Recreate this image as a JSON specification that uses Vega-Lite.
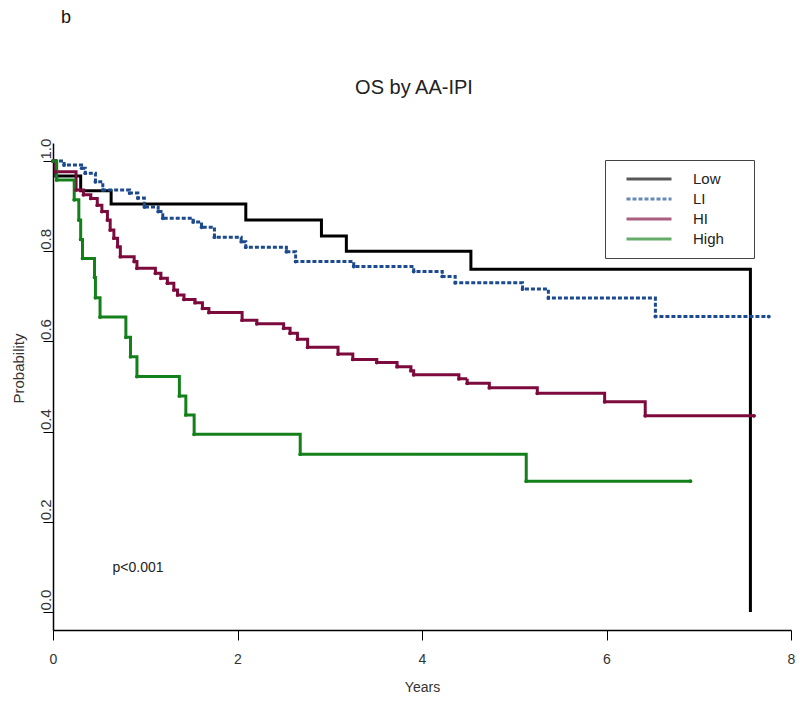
{
  "$schema": "https://vega.github.io/schema/vega-lite/v6.json",
  "width": 738,
  "height": 487,
  "autosize": {"type": "none"},
  "padding": {"left": 53, "top": 143, "right": 9, "bottom": 75},
  "background": "white",
  "title": {"text": "OS by AA-IPI", "fontSize": 20, "font": "Liberation Sans", "fontWeight": "normal", "color": "#222222", "anchor": "middle", "offset": 0, "baseline": "alphabetic", "dy": 105, "dx": -8},
  "config": {
    "view": {"stroke": null},
    "font": "Liberation Sans",
    "axis": {"grid": false, "domainColor": "#000000", "tickColor": "#000000", "labelColor": "#333333", "titleColor": "#333333", "labelFont": "Liberation Sans", "titleFont": "Liberation Sans", "labelFontSize": 14, "titleFontSize": 14, "titleFontWeight": "normal", "domainWidth": 1.5, "tickWidth": 1}
  },
  "datasets": {
    "km": [
      {"group": "Low", "t": 0, "s": 1.0},
      {"group": "Low", "t": 0.03, "s": 0.967},
      {"group": "Low", "t": 0.30, "s": 0.934},
      {"group": "Low", "t": 0.63, "s": 0.905},
      {"group": "Low", "t": 2.09, "s": 0.869},
      {"group": "Low", "t": 2.91, "s": 0.834},
      {"group": "Low", "t": 3.18, "s": 0.800},
      {"group": "Low", "t": 4.53, "s": 0.760},
      {"group": "Low", "t": 7.56, "s": 0.0},
      {"group": "LI", "t": 0, "s": 1.0},
      {"group": "LI", "t": 0.12, "s": 0.991},
      {"group": "LI", "t": 0.31, "s": 0.984},
      {"group": "LI", "t": 0.35, "s": 0.973},
      {"group": "LI", "t": 0.46, "s": 0.954},
      {"group": "LI", "t": 0.54, "s": 0.936},
      {"group": "LI", "t": 0.83, "s": 0.929},
      {"group": "LI", "t": 0.92, "s": 0.918},
      {"group": "LI", "t": 0.99, "s": 0.898},
      {"group": "LI", "t": 1.14, "s": 0.888},
      {"group": "LI", "t": 1.19, "s": 0.873},
      {"group": "LI", "t": 1.52, "s": 0.865},
      {"group": "LI", "t": 1.61, "s": 0.853},
      {"group": "LI", "t": 1.75, "s": 0.831},
      {"group": "LI", "t": 2.04, "s": 0.821},
      {"group": "LI", "t": 2.09, "s": 0.809},
      {"group": "LI", "t": 2.53, "s": 0.799},
      {"group": "LI", "t": 2.63, "s": 0.777},
      {"group": "LI", "t": 3.26, "s": 0.766},
      {"group": "LI", "t": 3.91, "s": 0.755},
      {"group": "LI", "t": 4.22, "s": 0.744},
      {"group": "LI", "t": 4.36, "s": 0.730},
      {"group": "LI", "t": 5.09, "s": 0.716},
      {"group": "LI", "t": 5.37, "s": 0.696},
      {"group": "LI", "t": 6.53, "s": 0.655},
      {"group": "LI", "t": 7.76, "s": 0.655},
      {"group": "HI", "t": 0, "s": 1.0},
      {"group": "HI", "t": 0.03, "s": 0.976},
      {"group": "HI", "t": 0.25, "s": 0.936},
      {"group": "HI", "t": 0.33, "s": 0.925},
      {"group": "HI", "t": 0.41, "s": 0.917},
      {"group": "HI", "t": 0.48, "s": 0.902},
      {"group": "HI", "t": 0.53, "s": 0.888},
      {"group": "HI", "t": 0.59, "s": 0.869},
      {"group": "HI", "t": 0.62, "s": 0.847},
      {"group": "HI", "t": 0.66, "s": 0.829},
      {"group": "HI", "t": 0.70, "s": 0.810},
      {"group": "HI", "t": 0.73, "s": 0.788},
      {"group": "HI", "t": 0.88, "s": 0.777},
      {"group": "HI", "t": 0.91, "s": 0.762},
      {"group": "HI", "t": 1.11, "s": 0.751},
      {"group": "HI", "t": 1.17, "s": 0.740},
      {"group": "HI", "t": 1.24, "s": 0.729},
      {"group": "HI", "t": 1.31, "s": 0.714},
      {"group": "HI", "t": 1.35, "s": 0.703},
      {"group": "HI", "t": 1.42, "s": 0.693},
      {"group": "HI", "t": 1.54, "s": 0.686},
      {"group": "HI", "t": 1.62, "s": 0.673},
      {"group": "HI", "t": 1.69, "s": 0.664},
      {"group": "HI", "t": 2.05, "s": 0.647},
      {"group": "HI", "t": 2.21, "s": 0.639},
      {"group": "HI", "t": 2.50, "s": 0.629},
      {"group": "HI", "t": 2.57, "s": 0.618},
      {"group": "HI", "t": 2.65, "s": 0.605},
      {"group": "HI", "t": 2.76, "s": 0.587},
      {"group": "HI", "t": 3.09, "s": 0.572},
      {"group": "HI", "t": 3.25, "s": 0.560},
      {"group": "HI", "t": 3.51, "s": 0.553},
      {"group": "HI", "t": 3.73, "s": 0.544},
      {"group": "HI", "t": 3.88, "s": 0.535},
      {"group": "HI", "t": 3.91, "s": 0.526},
      {"group": "HI", "t": 4.40, "s": 0.517},
      {"group": "HI", "t": 4.49, "s": 0.507},
      {"group": "HI", "t": 4.73, "s": 0.497},
      {"group": "HI", "t": 5.25, "s": 0.485},
      {"group": "HI", "t": 5.98, "s": 0.466},
      {"group": "HI", "t": 6.42, "s": 0.435},
      {"group": "HI", "t": 7.60, "s": 0.435},
      {"group": "High", "t": 0, "s": 1.0},
      {"group": "High", "t": 0.04, "s": 0.958},
      {"group": "High", "t": 0.23, "s": 0.914},
      {"group": "High", "t": 0.28, "s": 0.869},
      {"group": "High", "t": 0.30, "s": 0.826},
      {"group": "High", "t": 0.32, "s": 0.784},
      {"group": "High", "t": 0.45, "s": 0.742},
      {"group": "High", "t": 0.46, "s": 0.697},
      {"group": "High", "t": 0.51, "s": 0.654},
      {"group": "High", "t": 0.79, "s": 0.609},
      {"group": "High", "t": 0.84, "s": 0.566},
      {"group": "High", "t": 0.91, "s": 0.522},
      {"group": "High", "t": 1.37, "s": 0.479},
      {"group": "High", "t": 1.44, "s": 0.437},
      {"group": "High", "t": 1.53, "s": 0.394},
      {"group": "High", "t": 2.68, "s": 0.350},
      {"group": "High", "t": 5.13, "s": 0.290},
      {"group": "High", "t": 6.91, "s": 0.290}
    ]
  },
  "layer": [
    {
      "data": {"name": "km"},
      "mark": {"type": "line", "interpolate": "step-after"},
      "encoding": {
        "x": {"field": "t", "type": "quantitative", "scale": {"domain": [0, 8], "nice": false, "zero": false},
              "axis": {"values": [0, 2, 4, 6, 8], "format": "d", "title": "Years", "tickSize": 10, "labelPadding": 12, "titlePadding": 14, "labelFlush": false}},
        "y": {"field": "s", "type": "quantitative", "scale": {"domain": [-0.04, 1.04], "nice": false, "zero": false},
              "axis": {"values": [0, 0.2, 0.4, 0.6, 0.8, 1.0], "format": ".1f", "title": "Probability", "tickSize": 10, "labelPadding": -7, "labelFontSize": 15, "labelAngle": 270, "labelAlign": "left", "labelBaseline": "alphabetic", "labelOffset": -2, "titleAngle": 270, "titleX": -35, "titleY": 225, "titleAlign": "center", "titleBaseline": "middle", "titleFontSize": 15}},
        "color": {"field": "group", "type": "nominal",
                  "scale": {"domain": ["Low", "LI", "HI", "High"], "range": ["#000000", "#1b4a8e", "#7d0a3d", "#13801a"]},
                  "legend": {"title": null, "orient": "none", "legendX": 552, "legendY": 17, "symbolType": "stroke", "symbolSize": 2025, "symbolStrokeWidth": 1.3, "symbolOffset": 11, "labelOffset": 20, "labelFontSize": 15, "labelFont": "Liberation Sans", "labelColor": "#222222", "padding": 9, "clipHeight": 20, "rowPadding": 0, "strokeColor": "#444444", "fillColor": "white", "symbolOpacity": 0.65, "labelExpr": "datum.label + '\u00a0\u00a0\u00a0\u00a0\u00a0\u200b'",
                             "encode": {"symbols": {"update": {"strokeDash": {"signal": "datum.value === 'Low' ? [1, 0] : datum.value === 'LI' ? [2, 2] : datum.value === 'HI' ? [11, 4] : [6, 3]"}, "fill": {"value": "transparent"}}}}}},
        "strokeDash": {"field": "group", "type": "nominal", "scale": {"domain": ["Low", "LI", "HI", "High"], "range": [[1, 0], [4, 2], [1, 0], [1, 0]]}, "legend": null},
        "strokeWidth": {"field": "group", "type": "nominal", "scale": {"domain": ["Low", "LI", "HI", "High"], "range": [3, 3, 3.5, 2.5]}, "legend": null}
      }
    },
    {
      "data": {"name": "km"},
      "transform": [{"filter": "datum.group !== 'Low'"}],
      "mark": {"type": "point", "filled": true, "size": 14, "opacity": 1},
      "encoding": {
        "x": {"field": "t", "type": "quantitative"},
        "y": {"field": "s", "type": "quantitative"},
        "color": {"field": "group", "type": "nominal"}
      }
    },
    {
      "data": {"values": [{"t": 0.645, "s": 0.098, "label": "p<0.001"}]},
      "mark": {"type": "text", "font": "Liberation Sans", "fontSize": 14, "align": "left", "baseline": "middle", "color": "#222222"},
      "encoding": {
        "x": {"field": "t", "type": "quantitative"},
        "y": {"field": "s", "type": "quantitative"},
        "text": {"field": "label"}
      }
    },
    {
      "data": {"values": [{"t": 0.14, "s": 1.317, "label": "b"}]},
      "mark": {"type": "text", "font": "Liberation Sans", "fontSize": 18, "align": "center", "baseline": "middle", "color": "#111111"},
      "encoding": {
        "x": {"field": "t", "type": "quantitative"},
        "y": {"field": "s", "type": "quantitative"},
        "text": {"field": "label"}
      }
    }
  ]
}
